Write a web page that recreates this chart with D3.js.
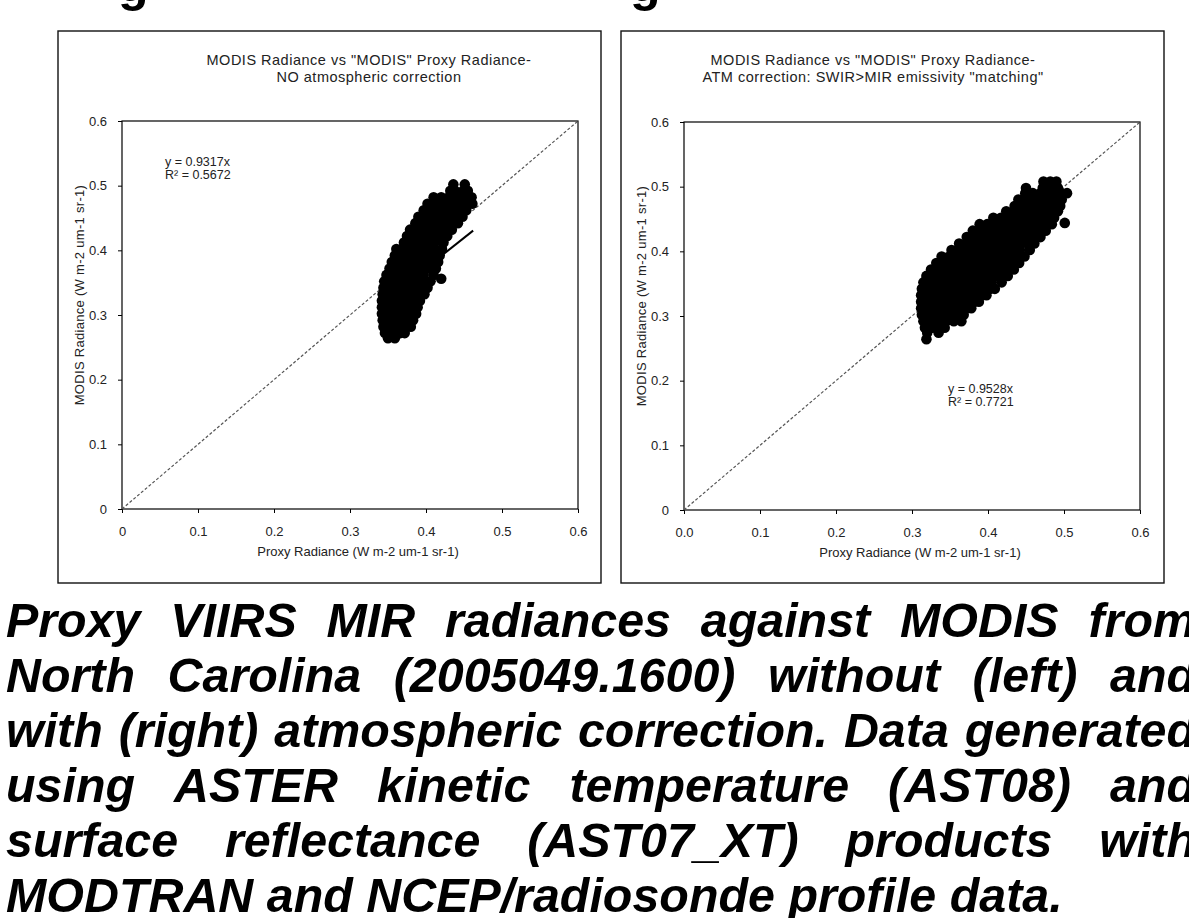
<!DOCTYPE html>
<html>
<head>
<meta charset="utf-8">
<script src="https://cdn.jsdelivr.net/npm/d3@7"></script>
<style>
  body { margin: 0; background: #fff; }
  svg { display: block; }
  text { font-family: "Liberation Sans", Arial, sans-serif; }
</style>
</head>
<body>
<svg id="fig" width="1189" height="918"></svg>
<script>
// titulos e rotulos
const titlesLeft = ['MODIS Radiance vs "MODIS" Proxy Radiance-', 'NO atmospheric correction'];
const titlesRight = ['MODIS Radiance vs "MODIS" Proxy Radiance-', 'ATM correction: SWIR>MIR emissivity "matching"'];
const tickValues = [0, 0.1, 0.2, 0.3, 0.4, 0.5, 0.6];
const xTicksLeft = ['0', '0.1', '0.2', '0.3', '0.4', '0.5', '0.6'];
const xTicksRight = ['0.0', '0.1', '0.2', '0.3', '0.4', '0.5', '0.6'];
const yTicks = ['0', '0.1', '0.2', '0.3', '0.4', '0.5', '0.6'];
const xTitle = 'Proxy Radiance (W m-2 um-1 sr-1)';
const yTitle = 'MODIS Radiance (W m-2 um-1 sr-1)';

// regressao (y = a x)
const slopes = [0.9317, 0.9528];
const r2 = [0.5672, 0.7721];
const fitRange = [[0.35, 0.462], [0.32, 0.50]];

// nuvem de pontos, esquerda: [y, [x...]]
const leftRows = [
  [0.502, [0.436, 0.451]],
  [0.492, [0.432, 0.438, 0.449, 0.455]],
  [0.482, [0.410, 0.420, 0.430, 0.440, 0.450, 0.460]],
  [0.472, [0.402, 0.412, 0.422, 0.432, 0.442, 0.452, 0.461]],
  [0.462, [0.397, 0.407, 0.417, 0.427, 0.437, 0.447, 0.453]],
  [0.452, [0.390, 0.400, 0.410, 0.420, 0.430, 0.440, 0.448]],
  [0.442, [0.386, 0.394, 0.404, 0.414, 0.424, 0.434, 0.442]],
  [0.432, [0.379, 0.389, 0.399, 0.409, 0.419, 0.429, 0.434]],
  [0.422, [0.375, 0.385, 0.395, 0.405, 0.415, 0.425, 0.428]],
  [0.412, [0.371, 0.381, 0.391, 0.401, 0.411, 0.423]],
  [0.402, [0.361, 0.370, 0.380, 0.390, 0.400, 0.410, 0.421]],
  [0.392, [0.359, 0.369, 0.379, 0.389, 0.399, 0.409, 0.418]],
  [0.382, [0.355, 0.365, 0.375, 0.385, 0.395, 0.405, 0.416]],
  [0.372, [0.352, 0.362, 0.372, 0.382, 0.392, 0.402, 0.413]],
  [0.362, [0.348, 0.357, 0.367, 0.377, 0.387, 0.397, 0.410]],
  [0.356, [0.420]],
  [0.352, [0.345, 0.355, 0.365, 0.375, 0.385, 0.395, 0.406]],
  [0.342, [0.344, 0.354, 0.364, 0.374, 0.384, 0.394, 0.402]],
  [0.332, [0.343, 0.353, 0.363, 0.373, 0.383, 0.393, 0.398]],
  [0.322, [0.342, 0.352, 0.362, 0.372, 0.382, 0.392]],
  [0.312, [0.342, 0.352, 0.362, 0.372, 0.382, 0.389]],
  [0.302, [0.342, 0.352, 0.362, 0.372, 0.382, 0.387]],
  [0.292, [0.343, 0.353, 0.363, 0.373, 0.383]],
  [0.282, [0.344, 0.354, 0.364, 0.374, 0.380]],
  [0.272, [0.346, 0.356, 0.366, 0.372]],
  [0.264, [0.350, 0.359]]
];

// nuvem de pontos, direita: [y, [x...]]
const rightRows = [
  [0.508, [0.473, 0.482, 0.490]],
  [0.498, [0.450, 0.472, 0.482, 0.492]],
  [0.490, [0.449, 0.459, 0.469, 0.479, 0.489, 0.497, 0.504]],
  [0.480, [0.440, 0.450, 0.460, 0.470, 0.480, 0.490, 0.497]],
  [0.470, [0.435, 0.445, 0.455, 0.465, 0.475, 0.485, 0.495]],
  [0.462, [0.424, 0.434, 0.444, 0.454, 0.464, 0.474, 0.484, 0.492]],
  [0.452, [0.407, 0.417, 0.427, 0.437, 0.447, 0.457, 0.467, 0.477, 0.487]],
  [0.444, [0.501]],
  [0.442, [0.389, 0.399, 0.409, 0.419, 0.429, 0.439, 0.449, 0.459, 0.469, 0.479, 0.484]],
  [0.432, [0.380, 0.390, 0.400, 0.410, 0.420, 0.430, 0.440, 0.450, 0.460, 0.470, 0.476]],
  [0.422, [0.372, 0.382, 0.392, 0.402, 0.412, 0.422, 0.432, 0.442, 0.452, 0.462, 0.469]],
  [0.412, [0.362, 0.372, 0.382, 0.392, 0.402, 0.412, 0.422, 0.432, 0.442, 0.452, 0.461]],
  [0.402, [0.352, 0.362, 0.372, 0.382, 0.392, 0.402, 0.412, 0.422, 0.432, 0.442, 0.455]],
  [0.392, [0.339, 0.349, 0.359, 0.369, 0.379, 0.389, 0.399, 0.409, 0.419, 0.429, 0.439, 0.448]],
  [0.382, [0.332, 0.342, 0.352, 0.362, 0.372, 0.382, 0.392, 0.402, 0.412, 0.422, 0.432, 0.441]],
  [0.372, [0.325, 0.335, 0.345, 0.355, 0.365, 0.375, 0.385, 0.395, 0.405, 0.415, 0.425, 0.434]],
  [0.362, [0.319, 0.329, 0.339, 0.349, 0.359, 0.369, 0.379, 0.389, 0.399, 0.409, 0.419, 0.426]],
  [0.352, [0.315, 0.325, 0.335, 0.345, 0.355, 0.365, 0.375, 0.385, 0.395, 0.405, 0.418]],
  [0.342, [0.313, 0.323, 0.333, 0.343, 0.353, 0.363, 0.373, 0.383, 0.393, 0.403, 0.409]],
  [0.332, [0.312, 0.322, 0.332, 0.342, 0.352, 0.362, 0.372, 0.382, 0.392, 0.398]],
  [0.322, [0.312, 0.322, 0.332, 0.342, 0.352, 0.362, 0.372, 0.382, 0.388]],
  [0.312, [0.312, 0.322, 0.332, 0.342, 0.352, 0.362, 0.372, 0.378]],
  [0.302, [0.313, 0.323, 0.333, 0.343, 0.353, 0.363, 0.368]],
  [0.292, [0.315, 0.325, 0.335, 0.345, 0.355, 0.365]],
  [0.282, [0.317, 0.327, 0.337, 0.343]],
  [0.274, [0.320, 0.335]],
  [0.264, [0.319]]
];

// legenda do slide
const captionLines = [
  'Proxy VIIRS MIR radiances against MODIS from',
  'North Carolina (2005049.1600) without (left) and',
  'with (right) atmospheric correction. Data generated',
  'using ASTER kinetic temperature (AST08) and',
  'surface reflectance (AST07_XT) products with',
  'MODTRAN and NCEP/radiosonde profile data.'
];

const svg = d3.select('#fig');

// restos do titulo do slide (cortado no topo)
svg.selectAll('text.head')
  .data([118, 630])
  .enter()
  .append('text')
  .attr('class', 'head')
  .attr('x', d => d)
  .attr('y', 1)
  .attr('font-size', 50)
  .attr('font-weight', 'bold')
  .text('g');

const panels = [
  { box: [58, 31, 601, 583], plot: [122, 121, 578, 509], titles: titlesLeft, titleX: 369,
    xLabels: xTicksLeft, rows: leftRows, eq: [165, 166], k: 0 },
  { box: [621, 31, 1164, 583], plot: [684, 122, 1140, 510], titles: titlesRight, titleX: 873,
    xLabels: xTicksRight, rows: rightRows, eq: [948, 393], k: 1 }
];

panels.forEach(p => {
  const [bx0, by0, bx1, by1] = p.box;
  const [px0, py0, px1, py1] = p.plot;
  const g = svg.append('g');

  g.append('rect')
    .attr('x', bx0).attr('y', by0)
    .attr('width', bx1 - bx0).attr('height', by1 - by0)
    .attr('fill', '#fff').attr('stroke', '#111').attr('stroke-width', 1.4);

  const x = d3.scaleLinear().domain([0, 0.6]).range([px0, px1]);
  const y = d3.scaleLinear().domain([0, 0.6]).range([py1, py0]);

  // titulo
  g.selectAll('text.title')
    .data(p.titles)
    .enter()
    .append('text')
    .attr('class', 'title')
    .attr('x', p.titleX)
    .attr('y', (d, i) => 65 + i * 17)
    .attr('text-anchor', 'middle')
    .attr('font-size', 14.5)
    .attr('letter-spacing', 0.5)
    .attr('fill', '#222')
    .text(d => d);

  // eixos
  const xAxis = d3.axisBottom(x).tickValues(tickValues).tickSize(4).tickPadding(14)
    .tickFormat((d, i) => p.xLabels[i]);
  const yAxis = d3.axisLeft(y).tickValues(tickValues).tickSize(4).tickPadding(11)
    .tickFormat((d, i) => yTicks[i]);

  g.append('g').attr('transform', `translate(0,${py1})`).call(xAxis)
    .call(a => a.select('.domain').remove())
    .call(a => a.selectAll('text').attr('font-size', 13).attr('fill', '#222')
      .attr('font-family', '"Liberation Sans", Arial, sans-serif'));
  g.append('g').attr('transform', `translate(${px0},0)`).call(yAxis)
    .call(a => a.select('.domain').remove())
    .call(a => a.selectAll('text').attr('font-size', 13).attr('fill', '#222')
      .attr('font-family', '"Liberation Sans", Arial, sans-serif'));

  g.append('rect')
    .attr('x', px0).attr('y', py0)
    .attr('width', px1 - px0).attr('height', py1 - py0)
    .attr('fill', 'none').attr('stroke', '#000').attr('stroke-width', 1.2);

  // titulos dos eixos
  g.append('text')
    .attr('x', (px0 + px1) / 2 + 8)
    .attr('y', py1 + 47)
    .attr('text-anchor', 'middle')
    .attr('font-size', 13)
    .attr('fill', '#222')
    .text(xTitle);

  g.append('text')
    .attr('transform', `translate(${px0 - 38},${(py0 + py1) / 2 - 20}) rotate(-90)`)
    .attr('text-anchor', 'middle')
    .attr('font-size', 13)
    .attr('letter-spacing', 0.3)
    .attr('fill', '#222')
    .text(yTitle);

  // linha 1:1
  g.append('line')
    .attr('x1', x(0)).attr('y1', y(0))
    .attr('x2', x(0.6)).attr('y2', y(0.6))
    .attr('stroke', '#555').attr('stroke-width', 1.2)
    .attr('stroke-dasharray', '3,2');

  // pontos
  const pts = p.rows.flatMap(([yy, xs]) => xs.map(xx => [xx, yy]));
  g.selectAll('circle')
    .data(pts)
    .enter()
    .append('circle')
    .attr('cx', d => x(d[0]))
    .attr('cy', d => y(d[1]))
    .attr('r', 5.3)
    .attr('fill', '#000');

  // linha de tendencia
  const [f0, f1] = fitRange[p.k];
  g.append('line')
    .attr('x1', x(f0)).attr('y1', y(slopes[p.k] * f0))
    .attr('x2', x(f1)).attr('y2', y(slopes[p.k] * f1))
    .attr('stroke', '#000').attr('stroke-width', 2);

  // equacao
  g.selectAll('text.eq')
    .data([`y = ${slopes[p.k]}x`, `R² = ${r2[p.k]}`])
    .enter()
    .append('text')
    .attr('class', 'eq')
    .attr('x', p.eq[0])
    .attr('y', (d, i) => p.eq[1] + i * 13)
    .attr('font-size', 12.5)
    .attr('fill', '#222')
    .text(d => d);
});

// legenda justificada
const capLeft = 6, capRight = 1196, capTop = 637, capLead = 55;
const probe = svg.append('text')
  .attr('font-weight', 'bold').attr('font-style', 'italic').attr('font-size', 100);
probe.text(captionLines[2]);
const capSize = Math.floor(100 * 1180 / probe.node().getComputedTextLength() * 10) / 10;
probe.attr('font-size', capSize);
const measure = s => { probe.text(s); return probe.node().getComputedTextLength(); };
const space = measure('a a') - measure('aa');

captionLines.forEach((line, i) => {
  const words = line.split(' ');
  const widths = words.map(measure);
  const total = d3.sum(widths);
  const last = i === captionLines.length - 1;
  const gap = last ? space : (capRight - capLeft - total) / (words.length - 1);
  const t = svg.append('text')
    .attr('y', capTop + i * capLead)
    .attr('font-weight', 'bold')
    .attr('font-style', 'italic')
    .attr('font-size', capSize)
    .attr('fill', '#000');
  let cx = capLeft;
  words.forEach((w, j) => {
    t.append('tspan').attr('x', cx).text(w);
    cx += widths[j] + gap;
  });
});
probe.remove();
</script>
</body>
</html>
